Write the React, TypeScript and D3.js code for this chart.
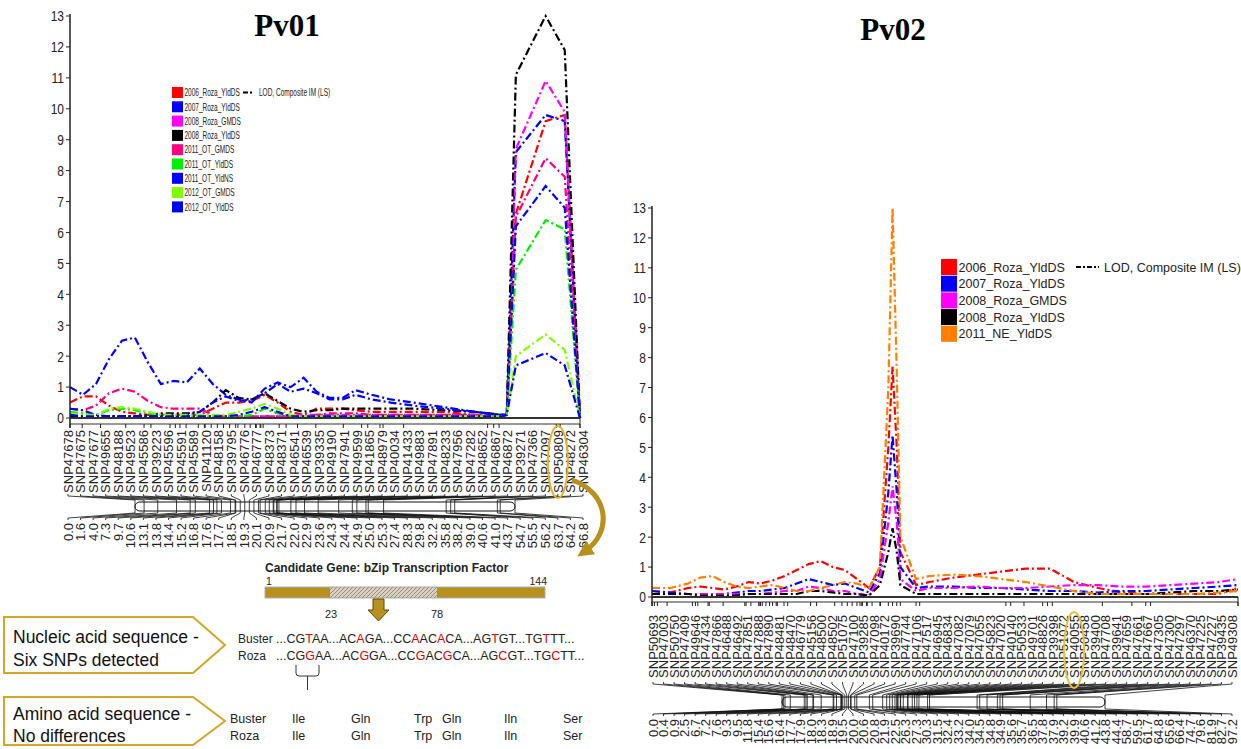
import React from "react";
import * as d3 from "d3";

// ---------------- Pv01 ----------------
const pv01Markers = ["SNP47678","SNP47675","SNP47677","SNP49655","SNP48188","SNP49523","SNP45586","SNP39223","SNP45596","SNP45591","SNP45589","SNP41120","SNP48158","SNP39795","SNP46776","SNP46777","SNP48373","SNP48371","SNP46541","SNP46539","SNP39335","SNP49190","SNP47941","SNP49599","SNP41865","SNP48979","SNP40034","SNP41433","SNP49883","SNP47891","SNP48233","SNP47956","SNP47282","SNP48652","SNP46867","SNP46872","SNP39271","SNP47366","SNP47097","SNP50809","SNP48272","SNP46304"];
const pv01Pos = [0.0,1.6,4.0,7.3,9.7,10.6,13.1,13.8,14.4,15.2,16.8,17.6,17.7,18.5,19.3,20.1,20.9,21.7,22.0,22.9,23.6,24.3,24.4,24.9,25.0,25.3,27.4,28.3,29.8,32.2,35.8,38.2,39.0,40.6,41.0,43.7,54.7,55.5,56.2,63.7,64.2,66.8];
const pv01Grid = [0,1.7,3.4,5.1,6.8,8.5,10.2,11.9,13.6,15.3,17,18.7,20.4,22.1,23.8,25.5,27.2,28.9,30.6,32.3,34,35.7,37.4,39.5,42,45,49,53,56.5,57.2,58.4,62.3,64.8,66.8];
const pv01Traits = ["2006_Roza_YldDS","2007_Roza_YldDS","2008_Roza_GMDS","2008_Roza_YldDS","2011_OT_GMDS","2011_OT_YldDS","2011_OT_YldNS","2012_OT_GMDS","2012_OT_YldDS"];
const pv01Colors = ["#ff0000","#0000ff","#ff00ff","#000000","#ff0080","#00ee00","#0000ff","#80ff00","#0000ee"];
const pv01_2006_Roza_YldDS = [0.5,0.7,0.7,0.4,0.2,0.15,0.1,0.1,0.1,0.1,0.1,0.3,0.5,0.5,0.55,0.75,0.5,0.2,0.1,0.3,0.3,0.3,0.25,0.2,0.2,0.2,0.2,0.1,0.05,0.1,6.6,9.6,9.8,0];
const pv01_2007_Roza_YldDS = [1.0,0.75,1.1,1.9,2.5,2.6,1.8,1.1,1.2,1.15,1.6,1.1,0.75,0.6,0.5,0.95,1.15,1.0,1.3,0.85,0.65,0.65,0.9,0.75,0.6,0.5,0.35,0.2,0.1,0.1,8.6,9.8,9.6,0];
const pv01_2008_Roza_GMDS = [0.05,0.05,0.05,0.05,0.05,0.05,0.05,0.05,0.05,0.05,0.05,0.05,0.05,0.05,0.05,0.05,0.05,0.05,0.1,0.1,0.1,0.1,0.1,0.1,0.1,0.1,0.1,0.1,0.05,0.1,8.7,10.9,9.9,0];
const pv01_2008_Roza_YldDS = [0.05,0.05,0.05,0.05,0.05,0.05,0.1,0.15,0.15,0.15,0.2,0.5,0.9,0.65,0.6,0.8,0.55,0.3,0.2,0.25,0.25,0.3,0.3,0.3,0.3,0.3,0.25,0.2,0.1,0.1,11.1,13.0,11.9,0];
const pv01_2011_OT_GMDS = [0.3,0.25,0.4,0.8,0.95,0.85,0.55,0.35,0.3,0.3,0.3,0.1,0.05,0.05,0.05,0.05,0.05,0.05,0.05,0.1,0.15,0.15,0.15,0.1,0.1,0.1,0.1,0.1,0.05,0.1,6.5,8.4,7.8,0];
const pv01_2011_OT_YldDS = [0.2,0.15,0.1,0.25,0.3,0.25,0.15,0.1,0.05,0.05,0.05,0.05,0.05,0.05,0.1,0.3,0.15,0.05,0.05,0.05,0.05,0.05,0.05,0.05,0.05,0.05,0.05,0.05,0.05,0.1,4.8,6.4,6.1,0];
const pv01_2011_OT_YldNS = [0.3,0.25,0.1,0.05,0.05,0.05,0.05,0.05,0.05,0.1,0.2,0.5,0.7,0.55,0.6,0.8,1.1,0.85,0.95,0.8,0.6,0.6,0.75,0.6,0.5,0.4,0.3,0.2,0.1,0.1,6.2,7.5,6.8,0];
const pv01_2012_OT_GMDS = [0.15,0.1,0.1,0.3,0.35,0.3,0.2,0.1,0.1,0.1,0.1,0.1,0.1,0.2,0.3,0.45,0.3,0.1,0.05,0.05,0.05,0.05,0.05,0.05,0.05,0.05,0.05,0.05,0.05,0.1,2.0,2.7,2.2,0];
const pv01_2012_OT_YldDS = [0.1,0.05,0.05,0.05,0.05,0.05,0.05,0.05,0.05,0.05,0.05,0.05,0.05,0.1,0.2,0.35,0.2,0.05,0.05,0.05,0.05,0.05,0.05,0.05,0.05,0.05,0.05,0.05,0.05,0.1,1.7,2.1,1.7,0];
const pv01Series = [pv01_2006_Roza_YldDS,pv01_2007_Roza_YldDS,pv01_2008_Roza_GMDS,pv01_2008_Roza_YldDS,pv01_2011_OT_GMDS,pv01_2011_OT_YldDS,pv01_2011_OT_YldNS,pv01_2012_OT_GMDS,pv01_2012_OT_YldDS];

// ---------------- Pv02 ----------------
const pv02Markers = ["SNP50693","SNP47003","SNP50750","SNP47409","SNP49646","SNP47434","SNP47866","SNP46488","SNP46492","SNP47851","SNP47888","SNP47890","SNP48481","SNP48470","SNP46779","SNP45156","SNP48500","SNP48502","SNP51075","SNP47100","SNP39285","SNP47098","SNP40172","SNP39690","SNP47744","SNP47106","SNP47517","SNP46945","SNP46834","SNP47082","SNP47079","SNP47055","SNP45823","SNP47020","SNP40140","SNP50533","SNP49701","SNP48826","SNP39398","SNP51072","SNP40055","SNP50458","SNP39400","SNP47708","SNP39641","SNP47659","SNP47661","SNP47667","SNP47305","SNP47300","SNP47297","SNP46370","SNP47225","SNP47227","SNP39435","SNP49308"];
const pv02Pos = [0.0,0.4,0.9,2.5,6.7,7.2,7.6,9.3,9.5,11.8,15.4,15.6,16.4,17.7,17.9,18.0,18.3,18.9,19.5,20.0,20.6,20.8,21.9,22.5,26.3,27.3,30.3,31.5,32.4,33.2,34.0,34.5,34.8,34.9,35.6,35.7,36.5,37.8,37.9,39.2,39.9,40.6,41.2,43.8,44.4,58.7,59.5,61.7,64.8,65.6,66.4,74.7,79.6,81.9,82.7,97.2];
const pv02Grid = [0,3,6,8,10,12,14,16,18,20,22,24,26,28,30,32,34,36,37.8,39.2,39.9,40.6,41.2,43.8,46,50,54,58,62,66,70,74,78,82,86,90,94,97.2];
const pv02Traits = ["2006_Roza_YldDS","2007_Roza_YldDS","2008_Roza_GMDS","2008_Roza_YldDS","2011_NE_YldDS"];
const pv02Colors = ["#ff0000","#0000ff","#ff00ff","#000000","#ff8000"];
const pv02_2006_Roza_YldDS = [0.1,0.15,0.3,0.35,0.3,0.25,0.35,0.5,0.45,0.55,0.7,0.9,1.1,1.2,1.0,0.9,0.6,0.3,1.0,5.0,7.7,5.0,1.5,0.4,0.5,0.65,0.75,0.85,0.95,0.95,0.5,0.3,0.15,0.1,0.1,0.1,0.1,0.3];
const pv02_2007_Roza_YldDS = [0.2,0.15,0.1,0.1,0.1,0.1,0.15,0.2,0.2,0.25,0.3,0.45,0.6,0.5,0.4,0.45,0.3,0.15,0.8,3.5,5.4,3.5,1.0,0.3,0.35,0.35,0.3,0.3,0.25,0.2,0.2,0.15,0.2,0.2,0.25,0.3,0.35,0.4];
const pv02_2008_Roza_GMDS = [0.1,0.1,0.1,0.1,0.1,0.1,0.1,0.1,0.1,0.15,0.2,0.2,0.35,0.3,0.2,0.2,0.1,0.05,0.6,2.5,3.7,2.5,0.6,0.2,0.3,0.3,0.35,0.3,0.3,0.35,0.4,0.4,0.35,0.35,0.4,0.45,0.5,0.6];
const pv02_2008_Roza_YldDS = [0.1,0.1,0.1,0.05,0.05,0.05,0.05,0.1,0.1,0.1,0.1,0.1,0.2,0.2,0.15,0.1,0.1,0.05,0.4,1.5,2.3,1.5,0.4,0.1,0.1,0.1,0.1,0.1,0.1,0.1,0.1,0.1,0.1,0.1,0.15,0.2,0.2,0.25];
const pv02_2011_NE_YldDS = [0.3,0.3,0.45,0.65,0.7,0.5,0.35,0.3,0.35,0.4,0.3,0.2,0.2,0.3,0.4,0.5,0.45,0.3,1.0,7.0,13.0,7.5,2.0,0.6,0.7,0.75,0.7,0.6,0.5,0.35,0.2,0.1,0.1,0.1,0.1,0.1,0.15,0.2];
const pv02Series = [pv02_2006_Roza_YldDS,pv02_2007_Roza_YldDS,pv02_2008_Roza_GMDS,pv02_2008_Roza_YldDS,pv02_2011_NE_YldDS];

const yTicks = [0,1,2,3,4,5,6,7,8,9,10,11,12,13];
const lodLabel = "LOD, Composite IM (LS)";

// gene / sequence text
const busterSeq = [["...CG",0],["T",1],["AA...AC",0],["A",1],["GA...CC",0],["A",1],["AC",0],["A",1],["CA...AG",0],["T",1],["GT...TG",0],["T",1],["TT...",0]];
const rozaSeq = [["...CG",0],["G",1],["AA...AC",0],["G",1],["GA...CC",0],["G",1],["AC",0],["G",1],["CA...AG",0],["C",1],["GT...TG",0],["C",1],["TT...",0]];
const aminoAcids = ["Ile","Gln","Trp","Gln","Iln","Ser"];
const aminoX = [292,351,414,442,504,563];

const SANS = "'Liberation Sans', Arial, sans-serif";
const SERIF = "'Liberation Serif', 'Times New Roman', serif";
const DASH = "8,3,2,3";
const GOLD = "#b8901e";

// horizontally condensed text (narrow font look)
function NText({ x, y, sx, size, anchor, children, fill }:
  { x: number; y: number; sx: number; size: number; anchor?: string; children: React.ReactNode; fill?: string }) {
  return (
    <text transform={`translate(${x},${y}) scale(${sx},1)`} dy="0.36em" textAnchor={anchor || "start"}
      fontFamily={SANS} fontSize={size} fill={fill || "#222"}>{children}</text>
  );
}

type ChartCfg = {
  x0: number; x1: number; maxCM: number; y0: number; y1: number;
  grid: number[]; series: number[][]; colors: string[]; pos: number[];
  bottomGap: number; tickFont: number;
};

function QtlChart({ c }: { c: ChartCfg }) {
  const x = d3.scaleLinear().domain([0, c.maxCM]).range([c.x0, c.x1]);
  const y = d3.scaleLinear().domain([0, 13]).range([c.y0, c.y1]);
  const line = d3.line<number>().x((_, i) => x(c.grid[i])).y((d) => y(d));
  const yb = c.y0 + c.bottomGap;
  return (
    <g>
      {c.series.map((s, i) => (
        <path key={i} d={line(s) || ""} fill="none" stroke={c.colors[i]} strokeWidth={2.2} strokeDasharray={DASH} />
      ))}
      <line x1={c.x0} x2={c.x0} y1={c.y1 - 2} y2={yb + 4} stroke="#222" strokeWidth={1.5} />
      {yTicks.map((t) => (
        <g key={t}>
          <line x1={c.x0 - 4} x2={c.x0} y1={y(t)} y2={y(t)} stroke="#222" strokeWidth={1} />
          <NText x={c.x0 - 6} y={y(t)} sx={0.8} size={c.tickFont} anchor="end">{t}</NText>
        </g>
      ))}
      <line x1={c.x0} x2={c.x1} y1={c.y0} y2={c.y0} stroke="#333" strokeWidth={2} />
      <line x1={c.x0} x2={c.x1} y1={yb} y2={yb} stroke="#333" strokeWidth={1.2} />
      {c.pos.map((p, i) => (
        <line key={i} x1={x(p)} x2={x(p)} y1={yb} y2={yb + 4} stroke="#222" strokeWidth={1} />
      ))}
      <line x1={c.x1} x2={c.x1} y1={c.y0} y2={yb + 4} stroke="#222" strokeWidth={1} />
    </g>
  );
}

type MapCfg = {
  markers: string[]; pos: number[]; lx0: number; lx1: number; labelTop: number; labelFont: number;
  fanTop: number; chrTop: number; chrBot: number; fanBot: number; posTop: number;
  cx0: number; cx1: number; maxCM: number;
};

function LinkageMap({ m }: { m: MapCfg }) {
  const n = m.markers.length;
  const lx = d3.scaleLinear().domain([0, n - 1]).range([m.lx0, m.lx1]);
  const cx = d3.scaleLinear().domain([0, m.maxCM]).range([m.cx0, m.cx1]);
  return (
    <g>
      {m.markers.map((s, i) => (
        <text key={"l" + i} transform={`translate(${lx(i)},${m.labelTop}) rotate(-90)`} textAnchor="end" dy="0.36em"
          fontFamily={SANS} fontSize={m.labelFont} fill="#222">{s}</text>
      ))}
      {m.pos.map((p, i) => (
        <path key={"t" + i} d={`M${lx(i)},${m.fanTop} L${lx(i)},${m.fanTop + 2} L${cx(p)},${m.chrTop - 2} L${cx(p)},${m.chrTop}`}
          fill="none" stroke="#111" strokeWidth={0.8} />
      ))}
      <rect x={m.cx0} y={m.chrTop} width={m.cx1 - m.cx0} height={m.chrBot - m.chrTop} rx={5} fill="#fff" stroke="#111" strokeWidth={1} />
      {m.pos.map((p, i) => (
        <line key={"c" + i} x1={cx(p)} x2={cx(p)} y1={m.chrTop} y2={m.chrBot} stroke="#111" strokeWidth={0.8} />
      ))}
      {m.pos.map((p, i) => (
        <path key={"b" + i} d={`M${cx(p)},${m.chrBot} L${cx(p)},${m.chrBot + 2} L${lx(i)},${m.fanBot - 2} L${lx(i)},${m.fanBot}`}
          fill="none" stroke="#111" strokeWidth={0.8} />
      ))}
      {m.pos.map((p, i) => (
        <text key={"p" + i} transform={`translate(${lx(i)},${m.posTop}) rotate(-90)`} textAnchor="end" dy="0.36em"
          fontFamily={SANS} fontSize={m.labelFont} fill="#222">{p.toFixed(1)}</text>
      ))}
    </g>
  );
}

function Legend({ traits, colors, x, y, step, sw, font, sx, lodX, lodTextX }:
  { traits: string[]; colors: string[]; x: number; y: number; step: number; sw: number; font: number; sx: number; lodX: number; lodTextX: number }) {
  return (
    <g>
      {traits.map((t, i) => (
        <g key={t + i}>
          <rect x={x} y={y + i * step - sw / 2} width={sw} height={sw} fill={colors[i]} />
          <NText x={x + sw + 1.5} y={y + i * step} sx={sx} size={font}>{t}</NText>
        </g>
      ))}
      <line x1={lodX} x2={lodTextX - 5} y1={y} y2={y} stroke="#000" strokeWidth={2} strokeDasharray="5,2,2,2" />
      <NText x={lodTextX} y={y} sx={sx} size={font}>{lodLabel}</NText>
    </g>
  );
}

export default function App() {
  const left: ChartCfg = { x0: 70, x1: 580, maxCM: 66.8, y0: 418, y1: 16, grid: pv01Grid, series: pv01Series, colors: pv01Colors, pos: pv01Pos, bottomGap: 6, tickFont: 15 };
  const right: ChartCfg = { x0: 652, x1: 1238, maxCM: 97.2, y0: 597, y1: 208, grid: pv02Grid, series: pv02Series, colors: pv02Colors, pos: pv02Pos, bottomGap: 5, tickFont: 15 };
  const mapL: MapCfg = { markers: pv01Markers, pos: pv01Pos, lx0: 68, lx1: 583, labelTop: 430, labelFont: 13, fanTop: 494, chrTop: 502, chrBot: 511, fanBot: 520, posTop: 523, cx0: 135, cx1: 515, maxCM: 66.8 };
  const mapR: MapCfg = { markers: pv02Markers, pos: pv02Pos, lx0: 653, lx1: 1232, labelTop: 615, labelFont: 13, fanTop: 682, chrTop: 697, chrBot: 707, fanBot: 716, posTop: 719, cx0: 782, cx1: 1105, maxCM: 97.2 };
  const lxL = d3.scaleLinear().domain([0, pv01Markers.length - 1]).range([mapL.lx0, mapL.lx1]);
  const lxR = d3.scaleLinear().domain([0, pv02Markers.length - 1]).range([mapR.lx0, mapR.lx1]);
  const candL = pv01Markers.indexOf("SNP50809");
  const candR = pv02Markers.indexOf("SNP40055");

  return (
    <svg width={1241} height={749} viewBox="0 0 1241 749" style={{ position: "absolute", left: 0, top: 0, background: "#fff" }}>
      <defs>
        <pattern id="hatch" width="4" height="4" patternUnits="userSpaceOnUse">
          <rect width="4" height="4" fill="#d8d0c4" />
          <path d="M0,4 L4,0 M-1,1 L1,-1 M3,5 L5,3" stroke="#8a7c66" strokeWidth={0.8} />
        </pattern>
        <marker id="arrowGold" viewBox="0 0 10 10" refX="5" refY="5" markerWidth="3.2" markerHeight="3.2" orient="auto">
          <path d="M0,0 L10,5 L0,10 Z" fill={GOLD} />
        </marker>
      </defs>
      <rect width={1241} height={749} fill="#fff" />

      {/* Titles */}
      <text x={287} y={36} textAnchor="middle" fontFamily={SERIF} fontWeight="bold" fontSize={31}>Pv01</text>
      <text x={893} y={40} textAnchor="middle" fontFamily={SERIF} fontWeight="bold" fontSize={31}>Pv02</text>

      <QtlChart c={left} />
      <QtlChart c={right} />

      <Legend traits={pv01Traits} colors={pv01Colors} x={172} y={92.5} step={14.3} sw={11} font={10.5} sx={0.62} lodX={243} lodTextX={259} />
      <Legend traits={pv02Traits} colors={pv02Colors} x={941} y={267} step={16.7} sw={16} font={12.5} sx={1} lodX={1076} lodTextX={1104} />

      <LinkageMap m={mapL} />
      <LinkageMap m={mapR} />

      {/* candidate ellipses */}
      <ellipse cx={lxL(candL)} cy={462} rx={10} ry={36} fill="none" stroke="#e2b22c" strokeWidth={2} />
      <ellipse cx={lxR(candR)} cy={650} rx={10} ry={38} fill="none" stroke="#e8c040" strokeWidth={2} />

      {/* curved arrow */}
      <path d="M572,480 C608,492 614,532 584,552" fill="none" stroke={GOLD} strokeWidth={5} markerEnd="url(#arrowGold)" />

      {/* Gene */}
      <text x={265} y={572} fontFamily={SANS} fontWeight="bold" fontSize={12} fill="#222">Candidate Gene:  bZip Transcription Factor</text>
      <text x={266} y={585} fontFamily={SANS} fontSize={10.5} fill="#222">1</text>
      <text x={547} y={585} textAnchor="end" fontFamily={SANS} fontSize={10.5} fill="#222">144</text>
      <rect x={265} y={587} width={280} height={11} fill={GOLD} stroke="#9fb3c4" strokeWidth={1} />
      <rect x={330} y={587.5} width={107} height={10} fill="url(#hatch)" />
      <text x={331} y={618} textAnchor="middle" fontFamily={SANS} fontSize={11} fill="#222">23</text>
      <text x={437} y={618} textAnchor="middle" fontFamily={SANS} fontSize={11} fill="#222">78</text>
      <path d="M373,599 H384 V610 H389 L378.5,621 L368,610 H373 Z" fill={GOLD} stroke="#5a4810" strokeWidth={1} />

      {/* Nucleic box */}
      <path d="M4,617 H193 L225,645 L193,673 H4 Z" fill="#fff" stroke="#d4a526" strokeWidth={2} />
      <text x={13} y={643} fontFamily={SANS} fontSize={17.5} fill="#111">Nucleic acid sequence -</text>
      <text x={13} y={666} fontFamily={SANS} fontSize={17.5} fill="#111">Six SNPs detected</text>
      <text x={238} y={643} fontFamily={SANS} fontSize={12} fill="#222">Buster</text>
      <text x={238} y={660} fontFamily={SANS} fontSize={12} fill="#222">Roza</text>
      <text x={276} y={643} fontFamily={SANS} fontSize={12.5} fill="#222">
        {busterSeq.map((s, i) => <tspan key={i} fill={s[1] ? "#e00000" : "#222"}>{s[0] as string}</tspan>)}
      </text>
      <text x={276} y={660} fontFamily={SANS} fontSize={12.5} fill="#222">
        {rozaSeq.map((s, i) => <tspan key={i} fill={s[1] ? "#e00000" : "#222"}>{s[0] as string}</tspan>)}
      </text>
      <path d="M296,665 V673 Q296,676 299,676 H316 Q319,676 319,673 V665 M307.5,676 V690" fill="none" stroke="#333" strokeWidth={1} />

      {/* Amino box */}
      <path d="M4,697 H193 L225,721 L193,745 H4 Z" fill="#fff" stroke="#d4a526" strokeWidth={2} />
      <text x={13} y={720} fontFamily={SANS} fontSize={17.5} fill="#111">Amino acid sequence -</text>
      <text x={13} y={742} fontFamily={SANS} fontSize={17.5} fill="#111">No differences</text>
      <text x={230} y={723} fontFamily={SANS} fontSize={12.5} fill="#222">Buster</text>
      <text x={230} y={740} fontFamily={SANS} fontSize={12.5} fill="#222">Roza</text>
      {aminoAcids.map((a, i) => (
        <g key={i}>
          <text x={aminoX[i]} y={723} fontFamily={SANS} fontSize={12.5} fill="#222">{a}</text>
          <text x={aminoX[i]} y={740} fontFamily={SANS} fontSize={12.5} fill="#222">{a}</text>
        </g>
      ))}
    </svg>
  );
}
